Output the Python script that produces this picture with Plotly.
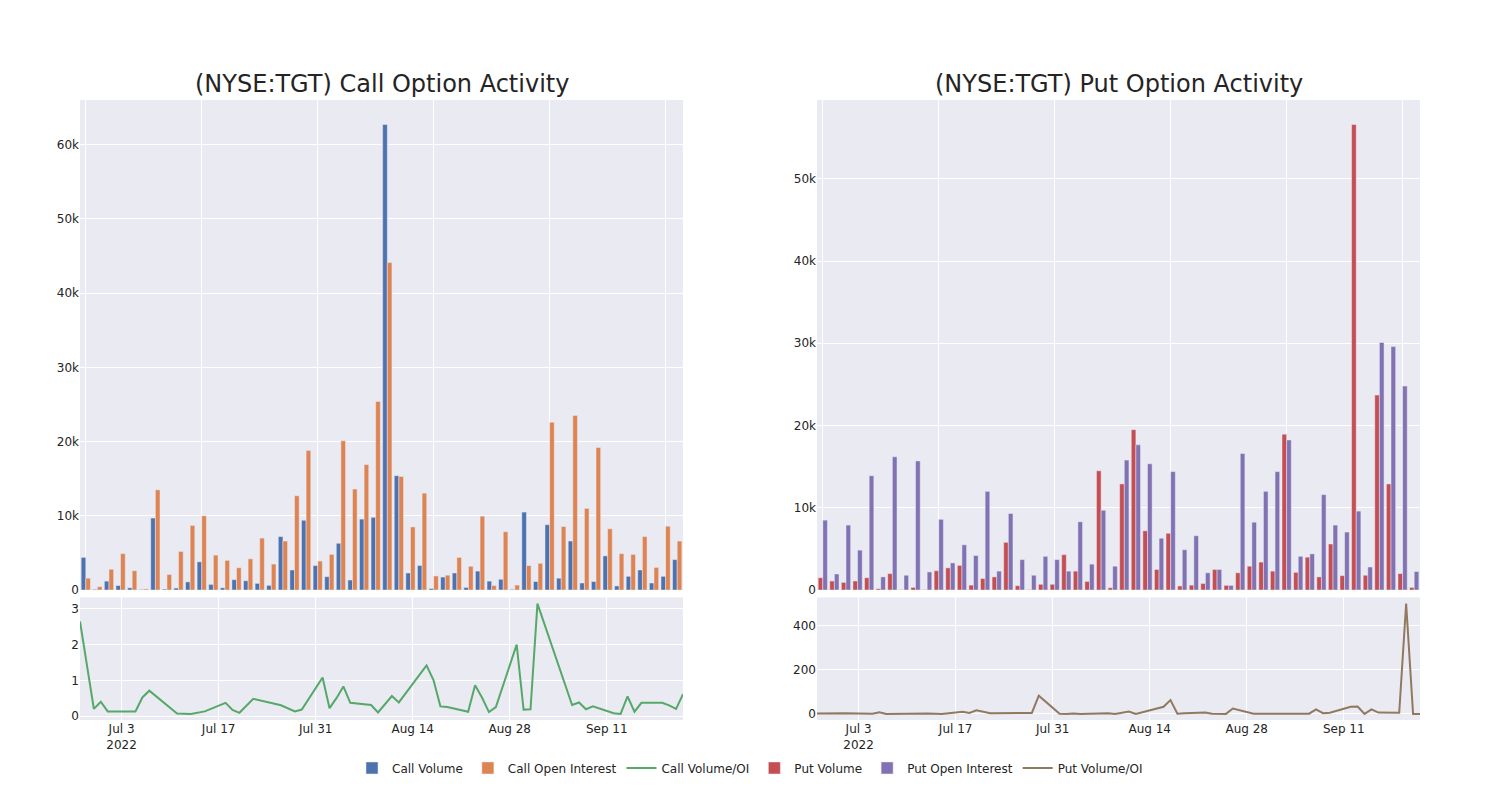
import plotly.graph_objects as go
from plotly.subplots import make_subplots

dates = [
    "2022-06-27", "2022-06-29", "2022-06-30", "2022-07-01", "2022-07-05", "2022-07-06",
    "2022-07-07", "2022-07-11", "2022-07-13", "2022-07-15", "2022-07-18", "2022-07-19",
    "2022-07-20", "2022-07-22", "2022-07-26", "2022-07-28", "2022-07-29", "2022-08-01",
    "2022-08-02", "2022-08-03", "2022-08-04", "2022-08-05", "2022-08-08", "2022-08-09",
    "2022-08-11", "2022-08-12", "2022-08-16", "2022-08-17", "2022-08-18", "2022-08-19",
    "2022-08-22", "2022-08-23", "2022-08-24", "2022-08-25", "2022-08-26", "2022-08-29",
    "2022-08-30", "2022-08-31", "2022-09-01", "2022-09-06", "2022-09-07", "2022-09-08",
    "2022-09-09", "2022-09-12", "2022-09-13", "2022-09-14", "2022-09-15", "2022-09-16",
    "2022-09-19", "2022-09-20", "2022-09-21", "2022-09-22",
]

call_volume = [
    4400, 100, 1200, 600, 300, 80, 9700, 130, 270, 1100, 3800, 760,
    300, 1400, 1250, 900, 630, 7200, 2700, 9400, 3300, 1800, 6300, 1350,
    9550, 9800, 62700, 15400, 2300, 3300, 200, 1750, 2300, 350, 2550, 1200,
    1450, 100, 10500, 1150, 8800, 1600, 6600, 950, 1150, 4600, 550, 1850,
    2700, 950, 1850, 4100,
]
call_oi = [
    1600, 450, 2800, 4900, 2600, 150, 13500, 2100, 5200, 8700, 10000, 4700,
    4000, 3000, 4200, 7000, 3500, 6600, 12700, 18800, 3900, 4800, 20100, 13600,
    16900, 25400, 44100, 15300, 8500, 13050, 1900, 2000, 4400, 3200, 9950, 600,
    7850, 670, 3300, 3600, 22600, 8550, 23500, 11000, 19200, 8250, 4900, 4800,
    7200, 3050, 8600, 6600,
]
call_ratio = [
    2.65, 0.2, 0.4, 0.13, 0.13, 0.52, 0.71, 0.07, 0.06, 0.13, 0.37, 0.17,
    0.09, 0.48, 0.3, 0.13, 0.18, 1.08, 0.22, 0.5, 0.83, 0.37, 0.31, 0.1,
    0.56, 0.38, 1.42, 1.01, 0.27, 0.25, 0.12, 0.86, 0.52, 0.11, 0.25, 2.0,
    0.18, 0.19, 3.15, 0.31, 0.38, 0.19, 0.27, 0.08, 0.06, 0.55, 0.12, 0.37,
    0.37, 0.3, 0.2, 0.61,
]

put_volume = [
    1500, 1100, 930, 1100, 1500, 160, 2000, 40, 320, 40, 2350, 2700,
    3000, 600, 1400, 1600, 5800, 530, 40, 700, 700, 4300, 2300, 1050,
    14500, 280, 12900, 19500, 7200, 2500, 6900, 500, 600, 800, 2500, 570,
    2100, 2900, 3400, 2300, 18950, 2150, 4000, 1600, 5600, 1750, 56600, 1800,
    23700, 12900, 2000, 320,
]
put_oi = [
    8500, 1950, 7900, 4850, 13900, 1600, 16200, 1800, 15700, 2200, 8600, 3300,
    5500, 4200, 12000, 2300, 9300, 3700, 1800, 4100, 3700, 2300, 8300, 3150,
    9700, 2900, 15800, 17650, 15350, 6300, 14400, 4900, 6600, 2100, 2500, 570,
    16600, 8250, 12000, 14400, 18250, 4100, 4400, 11600, 7900, 7050, 9600, 2800,
    30100, 29600, 24800, 2250,
]
put_ratio = [
    2, 3, 4, 3, 1, 7, 0, 2, 2, 0, 10, 4,
    16, 3, 4, 4, 82, 1, 0, 2, 0, 1, 3, 0,
    11, 0, 32, 62, 1, 3, 6, 1, 0, 0, 24, 1,
    1, 1, 1, 1, 20, 3, 5, 32, 33, 0, 20, 6,
    5, 498, 0, 0,
]

titles = ["(NYSE:TGT) Call Option Activity", "(NYSE:TGT) Put Option Activity"]

fig = make_subplots(
    rows=2, cols=2,
    row_heights=[0.8, 0.2],
    vertical_spacing=0.012,
    horizontal_spacing=0.1,
    subplot_titles=titles,
)

fig.add_trace(go.Bar(x=dates, y=call_volume, name="Call Volume"), row=1, col=1)
fig.add_trace(go.Bar(x=dates, y=call_oi, name="Call Open Interest"), row=1, col=1)
fig.add_trace(go.Scatter(x=dates, y=call_ratio, name="Call Volume/OI", mode="lines"), row=2, col=1)
fig.add_trace(go.Bar(x=dates, y=put_volume, name="Put Volume"), row=1, col=2)
fig.add_trace(go.Bar(x=dates, y=put_oi, name="Put Open Interest"), row=1, col=2)
fig.add_trace(go.Scatter(x=dates, y=put_ratio, name="Put Volume/OI", mode="lines"), row=2, col=2)

for c in (1, 2):
    fig.update_xaxes(type="category", showticklabels=False, tickmode="linear",
                     tick0=0, dtick=10, row=1, col=c)
    fig.update_xaxes(type="date", row=2, col=c)

for a in fig.layout.annotations:
    a.font = dict(size=24, family="DejaVu Sans", color="rgb(36,36,36)")

fig.update_layout(
    template="seaborn",
    width=1484, height=786,
    margin=dict(l=72, r=72, t=92, b=72),
    barmode="group",
    font=dict(family="DejaVu Sans", size=12),
    legend=dict(orientation="h", x=0.5, xanchor="center", y=-0.054, yanchor="top"),
)

fig.write_html("out.html")
